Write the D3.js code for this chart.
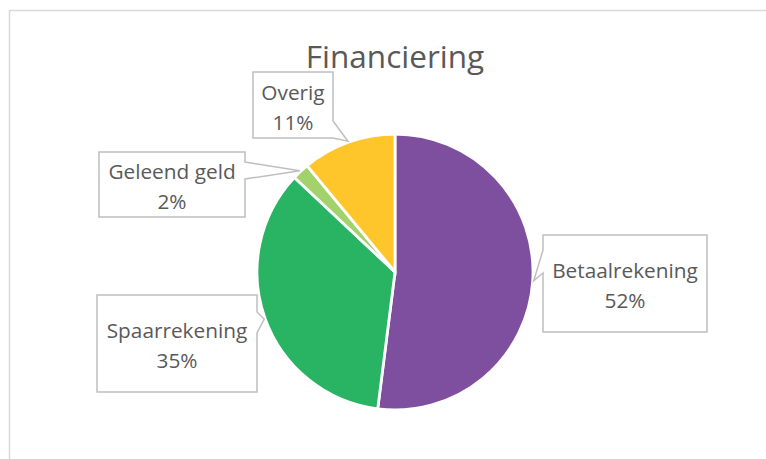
<!DOCTYPE html>
<html>
<head>
<meta charset="utf-8">
<script src="https://cdn.jsdelivr.net/npm/d3@7/dist/d3.min.js"></script>
<style>
  html, body { margin: 0; padding: 0; background: #fff; }
  svg { display: block; }
</style>
</head>
<body>
<svg id="chart" width="766" height="459"></svg>
<script>
const title = "Financiering";
const categories = ["Betaalrekening", "Spaarrekening", "Geleend geld", "Overig"];
const values = [52, 35, 2, 11];
const percentLabels = ["52%", "35%", "2%", "11%"];
const colors = ["#7f4f9f", "#28b463", "#a3d16b", "#ffc62c"];

const W = 766, H = 459;
const svg = d3.select("#chart");

// chart area border
svg.append("rect")
  .attr("x", 9.5).attr("y", 10.5)
  .attr("width", W + 20).attr("height", H + 20)
  .attr("fill", "#fff").attr("stroke", "#d9d9d9").attr("stroke-width", 1.5);

// title
svg.append("text")
  .attr("x", 395).attr("y", 55)
  .attr("text-anchor", "middle").attr("dominant-baseline", "central")
  .attr("font-family", "'Open Sans', sans-serif")
  .attr("font-size", 31.5)
  .attr("fill", "#595959")
  .text(title);

const cx = 395, cy = 272, R = 138;
const data = categories.map((c, i) => ({ name: c, value: values[i], label: percentLabels[i], color: colors[i] }));
const pie = d3.pie().value(d => d.value).sort(null);
const arcs = pie(data);
const arc = d3.arc().innerRadius(0).outerRadius(R);

const g = svg.append("g").attr("transform", `translate(${cx},${cy})`);
g.selectAll("path.slice").data(arcs).enter().append("path")
  .attr("class", "slice")
  .attr("d", arc)
  .attr("fill", d => d.data.color)
  .attr("stroke", "#fff")
  .attr("stroke-width", 2.8)
  .attr("stroke-linejoin", "miter");

// callout boxes (layout)
const boxes = [
  { x: 543, y: 235, w: 164, h: 97, side: "left",  b0: 250, b1: 273 },
  { x: 97,  y: 295, w: 160, h: 97, side: "right", b0: 312, b1: 333 },
  { x: 99,  y: 152, w: 146, h: 65, side: "right", b0: 162, b1: 179 },
  { x: 253, y: 72,  w: 80,  h: 66, side: "right", b0: 121, b1: 138 }
];

arcs.forEach((a, i) => {
  const b = boxes[i];
  const mid = (a.startAngle + a.endAngle) / 2;
  const tx = cx + (R + 1) * Math.sin(mid);
  const ty = cy - (R + 1) * Math.cos(mid);
  const L = b.x, T = b.y, Rr = b.x + b.w, B = b.y + b.h;
  let p;
  if (b.side === "right") {
    p = [[L, T], [Rr, T], [Rr, b.b0], [tx, ty], [Rr, b.b1], [Rr, B], [L, B]];
  } else {
    p = [[L, T], [Rr, T], [Rr, B], [L, B], [L, b.b1], [tx, ty], [L, b.b0]];
  }
  svg.append("path")
    .attr("d", d3.line()(p) + "Z")
    .attr("fill", "#fff")
    .attr("stroke", "#bfbfbf")
    .attr("stroke-width", 1.5)
    .attr("stroke-linejoin", "miter");

  const mx = L + b.w / 2, my = T + b.h / 2 + 1.5;
  const t = svg.append("text")
    .attr("text-anchor", "middle")
    .attr("font-family", "'Open Sans', sans-serif")
    .attr("font-size", 20.8)
    .attr("fill", "#595959");
  t.append("tspan").attr("x", mx).attr("y", my - 15).attr("dominant-baseline", "central").text(a.data.name);
  t.append("tspan").attr("x", mx).attr("y", my + 15).attr("dominant-baseline", "central").text(a.data.label);
});
</script>
</body>
</html>
